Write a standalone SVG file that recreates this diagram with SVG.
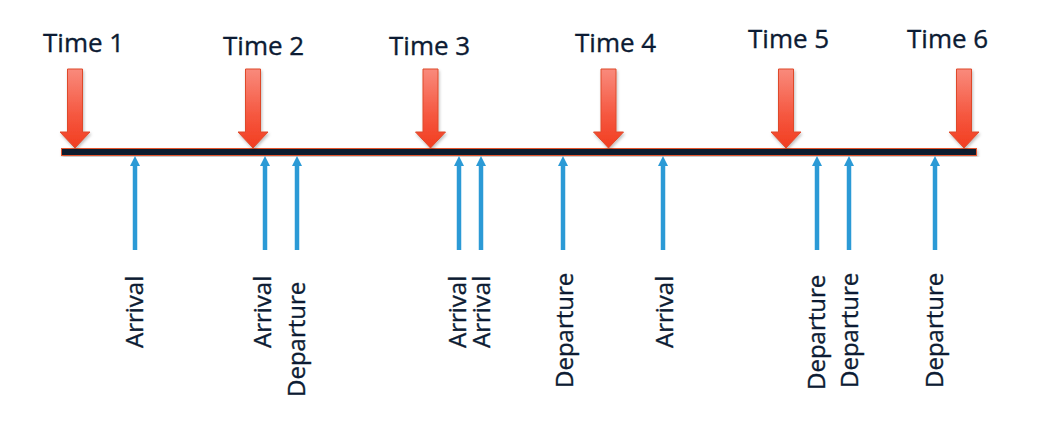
<svg xmlns="http://www.w3.org/2000/svg" width="1062" height="430" viewBox="0 0 1062 430">
<defs>
<linearGradient id="redg" x1="0" y1="0" x2="0" y2="1">
<stop offset="0" stop-color="#f98a7c"/>
<stop offset="0.6" stop-color="#f5563e"/>
<stop offset="1" stop-color="#f23d20"/>
</linearGradient>
<filter id="sh" x="-30%" y="-10%" width="160%" height="130%">
<feDropShadow dx="1" dy="2" stdDeviation="1.5" flood-color="#000" flood-opacity="0.25"/>
</filter>
<marker id="bh" viewBox="0 0 10 10" refX="0" refY="5" markerWidth="10" markerHeight="11" markerUnits="userSpaceOnUse" orient="auto">
<path d="M0,0 L10,5 L0,10 z" fill="#2b9ad6"/>
</marker>
</defs>
<style>
.t{font-family:"Open Sans","Noto Sans",sans-serif;fill:#0c1b33;stroke:#0c1b33;stroke-width:0.35}
.tm{font-size:26px}
.lb{font-size:24px}
.ra{fill:url(#redg);stroke:#de4a2c;stroke-width:1;filter:url(#sh)}
.ba{stroke:#2b9ad6;stroke-width:4.5;fill:none;marker-end:url(#bh)}
</style>
<rect width="1062" height="430" fill="#fff"/>
<g id="timeline">
<rect x="61.5" y="148.5" width="915" height="7" fill="#0c1a2e" stroke="#e2542f" stroke-width="1" filter="url(#sh)"/>
</g>
<g id="time1"><text class="t tm" x="43" y="52">Time 1</text><polygon class="ra" points="67.5,69 82.5,69 82.5,132 90,132 75,148 60,132 67.5,132"/></g>
<g id="time2"><text class="t tm" x="223" y="55">Time 2</text><polygon class="ra" points="245.5,69 260.5,69 260.5,132 268,132 253,148 238,132 245.5,132"/></g>
<g id="time3"><text class="t tm" x="389" y="55">Time 3</text><polygon class="ra" points="423,69 438,69 438,132 445.5,132 430.5,148 415.5,132 423,132"/></g>
<g id="time4"><text class="t tm" x="575" y="52">Time 4</text><polygon class="ra" points="601,69 616,69 616,132 623.5,132 608.5,148 593.5,132 601,132"/></g>
<g id="time5"><text class="t tm" x="748" y="48">Time 5</text><polygon class="ra" points="778.5,69 793.5,69 793.5,132 801,132 786,148 771,132 778.5,132"/></g>
<g id="time6"><text class="t tm" x="907" y="48">Time 6</text><polygon class="ra" points="956.5,69 971.5,69 971.5,132 979,132 964,148 949,132 956.5,132"/></g>
<g id="connectors">
<line class="ba" x1="135" y1="250" x2="135" y2="166"/>
<line class="ba" x1="265" y1="250" x2="265" y2="166"/>
<line class="ba" x1="297" y1="250" x2="297" y2="166"/>
<line class="ba" x1="459" y1="250" x2="459" y2="166"/>
<line class="ba" x1="481" y1="250" x2="481" y2="166"/>
<line class="ba" x1="563" y1="250" x2="563" y2="166"/>
<line class="ba" x1="663" y1="250" x2="663" y2="166"/>
<line class="ba" x1="817" y1="250" x2="817" y2="166"/>
<line class="ba" x1="849" y1="250" x2="849" y2="166"/>
<line class="ba" x1="935" y1="250" x2="935" y2="166"/>
</g>
<g id="ev1"><text class="t lb" transform="translate(143,348) rotate(-90)">Arrival</text></g>
<g id="ev2"><text class="t lb" transform="translate(271,348) rotate(-90)">Arrival</text></g>
<g id="ev3"><text class="t lb" transform="translate(305,397) rotate(-90)">Departure</text></g>
<g id="ev4"><text class="t lb" transform="translate(466,348) rotate(-90)">Arrival</text></g>
<g id="ev5"><text class="t lb" transform="translate(490,348) rotate(-90)">Arrival</text></g>
<g id="ev6"><text class="t lb" transform="translate(573,388) rotate(-90)">Departure</text></g>
<g id="ev7"><text class="t lb" transform="translate(673,348) rotate(-90)">Arrival</text></g>
<g id="ev8"><text class="t lb" transform="translate(825,390) rotate(-90)">Departure</text></g>
<g id="ev9"><text class="t lb" transform="translate(858,388) rotate(-90)">Departure</text></g>
<g id="ev10"><text class="t lb" transform="translate(943,388) rotate(-90)">Departure</text></g>
</svg>
